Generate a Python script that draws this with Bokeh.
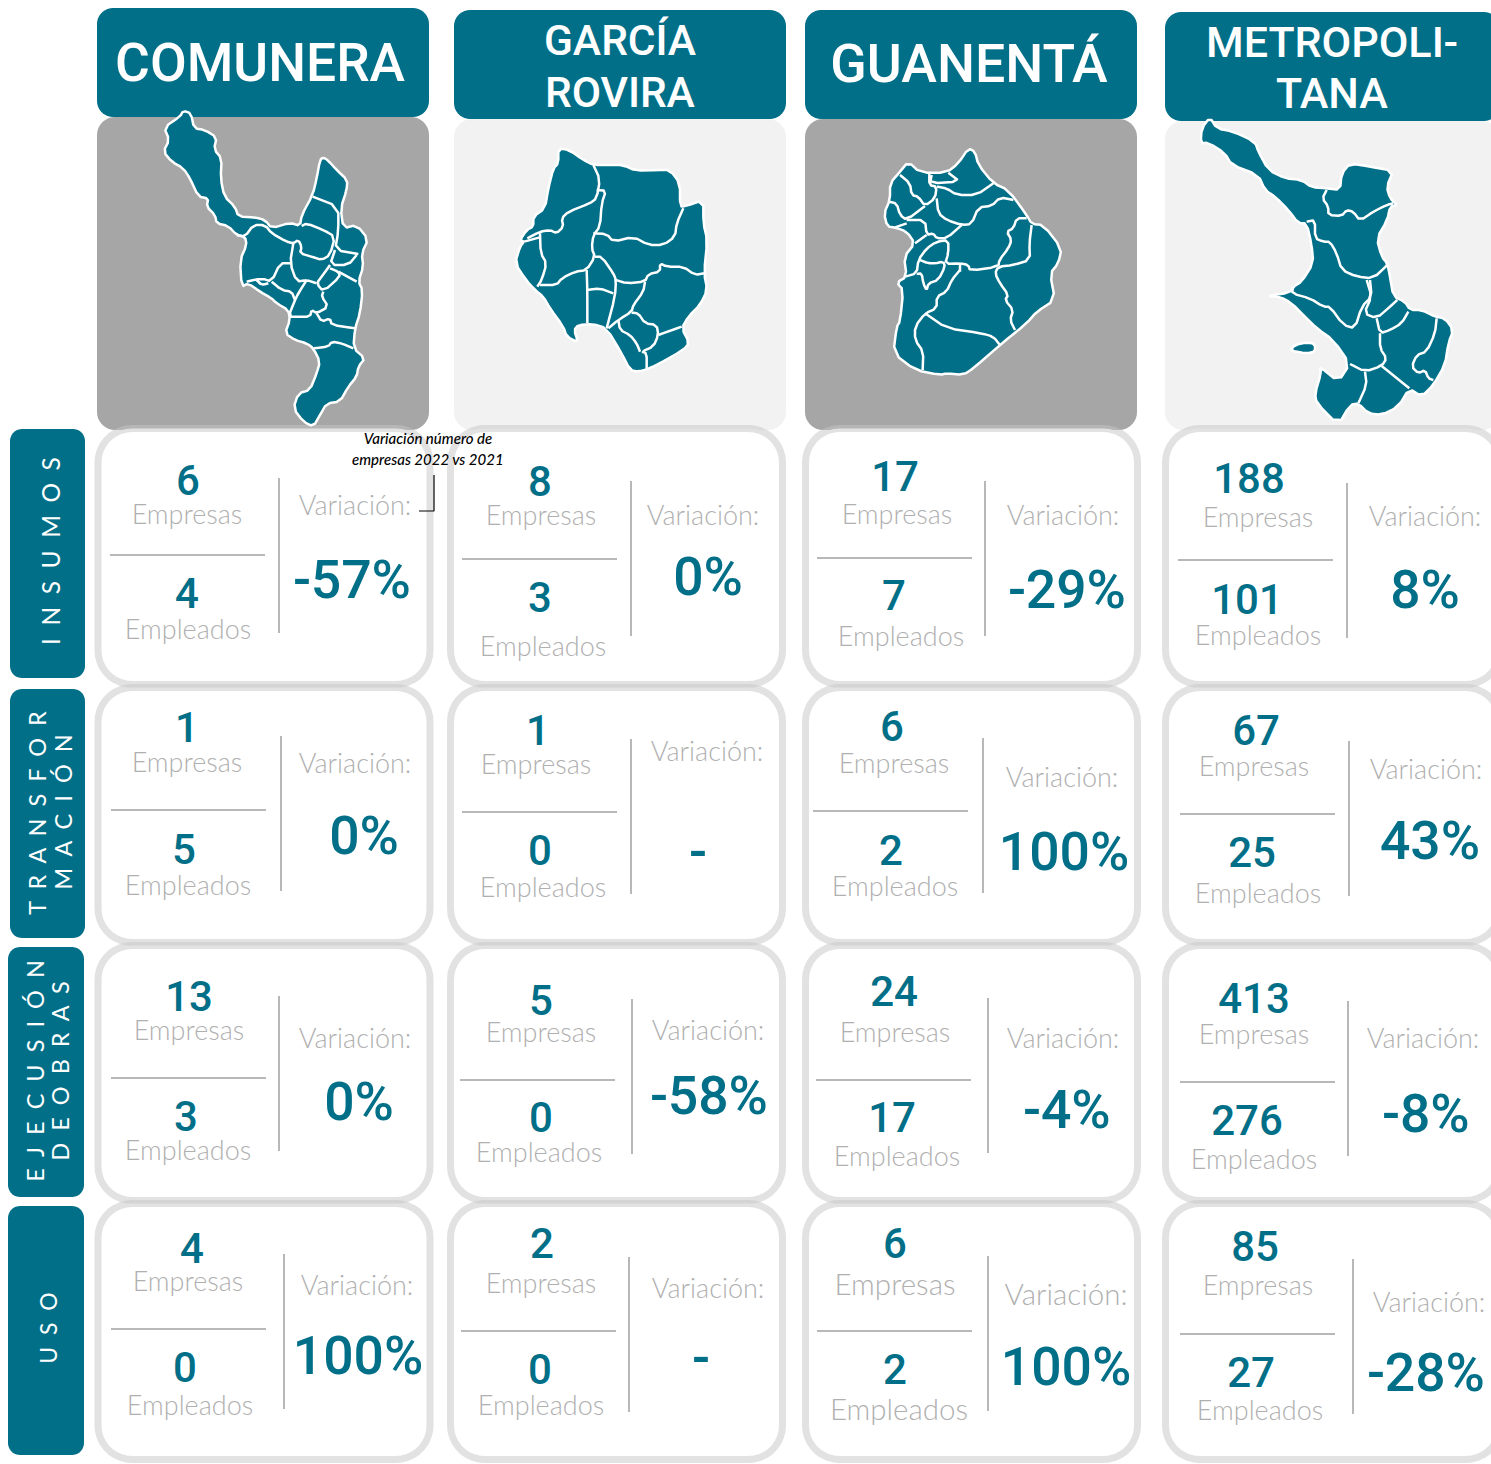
import numpy as np
from bokeh.plotting import figure
from bokeh.models import Range1d
from bokeh.core.properties import value
from bokeh.embed import file_html
from bokeh.resources import INLINE

# ---------- data ----------
REGIONS = [["COMUNERA"], ["GARCÍA", "ROVIRA"], ["GUANENTÁ"], ["METROPOLI-", "TANA"]]
SECTORS = [["INSUMOS"], ["TRANSFOR", "MACIÓN"], ["EJECUSIÓN", "DE OBRAS"], ["USO"]]
EMPRESAS = [[6, 8, 17, 188], [1, 1, 6, 67], [13, 5, 24, 413], [4, 2, 6, 85]]
EMPLEADOS = [[4, 3, 7, 101], [5, 0, 2, 25], [3, 0, 17, 276], [0, 0, 2, 27]]
VARIACION = [["-57%", "0%", "-29%", "8%"], ["0%", "-", "100%", "43%"],
             ["0%", "-58%", "-4%", "-8%"], ["100%", "-", "100%", "-28%"]]
NOTE = ["Variación número de", "empresas 2022 vs 2021"]

# ---------- layout (pixel positions on the page) ----------
TEAL = "#016f88"
GREY = "#a6a6a6"
PALE = "#f2f2f2"
LABEL = "#b0b0b0"
RULE = "#a0a0a0"
CARD = "#c6c6c6"
HEAD_BOX = [(97, 429, 8, 117), (454, 786, 10, 119), (805, 1137, 10, 119), (1165, 1500, 12, 121)]
MAP_BOX = [(97, 429, 117, 430, GREY), (454, 786, 119, 430, PALE), (805, 1137, 119, 430, GREY), (1165, 1500, 121, 430, PALE)]
CARD_X = [(98, 430), (450.5, 782.5), (805.5, 1137.5), (1165.5, 1500)]
CARD_Y = [(428.5, 684.5), (687.5, 942.5), (945.5, 1200.5), (1203.5, 1459.5)]
SIDE_BOX = [(10, 85, 429, 678), (10, 85, 689, 938), (8, 84, 947, 1197), (8, 84, 1206, 1455)]
HEAD_POS = [[(260, 64, 53.3)], [(620, 41, 42.5), (620, 93, 42.5)], [(969, 64, 53.6)], [(1332, 43, 43), (1332, 94, 43)]]
SIDE_POS = [[(50, 552, 2, 24.5)], [(37, 814, 2, 23.5), (63, 813, 2, 23.5)], [(35, 1072, 2, 23.5), (60, 1072, 2, 23.5)], [(48, 1329, 2, 23)]]
N1 = [[(188,481),(540,482),(895,477),(1249,479)],[(187,728),(538,731),(892,727),(1256,731)],
      [(189,997),(541,1001),(894,992),(1254,999)],[(192,1249),(542,1244),(895,1244),(1255,1247)]]
L1 = [[(187,514),(541,515),(897,514),(1258,517)],[(187,762),(536,764),(894,763),(1254,766)],
      [(189,1030),(541,1032),(895,1032),(1254,1034)],[(188,1281),(541,1283),(895,1284),(1258,1285)]]
N2 = [[(187,594),(540,598),(894,596),(1247,600)],[(184,850),(540,851),(891,851),(1252,853)],
      [(186,1117),(541,1118),(892,1118),(1247,1121)],[(185,1368),(540,1370),(895,1370),(1251,1373)]]
L2 = [[(188,629),(543,646),(901,636),(1258,635)],[(188,885),(543,887),(895,886),(1258,893)],
      [(188,1150),(539,1152),(897,1156),(1254,1159)],[(190,1405),(541,1405),(899,1409),(1260,1410)]]
HL = [[(110,555),(462,559),(817,558),(1178,560)],[(111,810),(462,812),(813,811),(1180,814)],
      [(111,1078),(460,1080),(816,1080),(1180,1082)],[(111,1329),(461,1331),(817,1331),(1180,1334)]]
VL = [[(279,478),(631,481),(985,481),(1347,483)],[(281,736),(631,739),(983,738),(1349,741)],
      [(279,996),(632,999),(988,998),(1348,1001)],[(284,1254),(629,1257),(988,1256),(1353,1259)]]
VT = [[(355,505),(703,515),(1063,515),(1425,516)],[(355,763),(707,751),(1062,777),(1426,769)],
      [(355,1038),(708,1030),(1063,1038),(1423,1038)],[(357,1285),(708,1288),(1066,1294),(1429,1302)]]
VP = [[(352,580),(708,577),(1067,590),(1425,590)],[(364,836),(698,852),(1064,852),(1430,841)],
      [(359,1102),(709,1096),(1067,1110),(1426,1114)],[(358,1356),(701,1358),(1066,1367),(1426,1373)]]

# ---------- map outlines (3x crop coordinates + crop origin) ----------
M1_O = (90, 100)
M1_OUT = [(280,32),(303,40),(312,85),(345,90),(380,112),(372,148),(395,175),(392,235),(403,290),(435,320),(445,350),(495,352),(525,360),(545,385),(600,368),(630,378),(635,345),(668,285),(680,235),(690,180),(700,172),(715,182),(740,210),(772,240),(770,270),(752,325),(760,385),(800,375),(835,418),(815,460),(820,500),(805,545),(818,570),(810,640),(795,685),(790,745),(825,775),(805,800),(800,830),(775,860),(750,905),(710,910),(690,945),(670,980),(640,965),(610,925),(625,880),(660,870),(680,820),(690,785),(670,745),(650,730),(615,720),(585,700),(600,660),(595,630),(560,610),(545,595),(510,575),(475,550),(455,560),(450,480),(470,435),(465,410),(440,405),(415,378),(380,370),(375,345),(350,320),(355,295),(325,290),(300,235),(280,205),(245,185),(220,155),(238,120),(222,82),(270,50)]
M1_IN = [
 [(440,405),(465,410),(490,375),(525,375),(545,400),(590,425),(610,430),(625,420),(635,440),(630,460),(665,470),(695,480),(720,465),(735,410),(700,390),(650,370),(635,378)],
 [(668,290),(745,320),(745,395),(735,450),(805,462)],
 [(735,450),(720,495),(775,495),(800,465)],
 [(720,495),(695,530),(680,550),(700,575),(750,530),(745,515),(720,505)],
 [(745,515),(800,545)],
 [(610,430),(600,490),(620,545),(650,540),(680,550)],
 [(600,490),(570,490),(545,545),(515,535),(470,545)],
 [(545,545),(575,570),(605,575),(615,600)],
 [(500,540),(515,555),(535,550)],
 [(650,540),(625,580),(615,600),(595,650),(625,650),(660,650),(665,630),(680,640),(715,620),(695,590),(700,575)],
 [(680,640),(695,665),(720,655),(725,675),(795,685)],
 [(670,745),(715,740),(725,725),(755,730),(790,745)],
]
M2_O = (450, 120)
M2_OUT = [(325,85),(358,90),(400,120),(430,135),(480,135),(520,135),(555,152),(625,150),(660,150),(690,190),(690,260),(708,258),(760,240),(760,310),(772,360),(762,460),(772,510),(750,555),(715,590),(695,625),(718,668),(700,690),(620,735),(590,748),(565,755),(540,750),(515,700),(470,625),(430,612),(385,615),(372,630),(385,668),(350,650),(340,620),(300,565),(280,530),(255,510),(228,480),(195,430),(210,380),(222,365),(210,360),(230,330),(250,320),(250,290),(285,265),(295,205),(310,145),(325,130)]
M2_IN = [
 [(430,135),(450,178),(440,235),(420,250),(355,275),(335,295),(340,320),(320,340),(300,330),(270,335),(232,355)],
 [(440,210),(468,212),(455,250),(450,320),(430,345),(425,385),(435,410),(410,450),(375,455),(335,475),(320,495),(270,495)],
 [(430,340),(470,342),(490,365),(550,350),(595,375),(640,375),(675,350),(680,310),(700,265)],
 [(270,340),(272,400),(290,430),(275,480),(262,500)],
 [(222,365),(270,352)],
 [(435,410),(455,410),(490,460),(498,480),(495,530),(470,625)],
 [(410,450),(412,510),(412,610)],
 [(412,510),(450,505),(490,520)],
 [(498,480),(530,490),(585,485),(595,462),(630,455),(630,430),(650,440),(700,440),(735,465),(762,460)],
 [(585,485),(580,515),(550,555),(545,575),(505,600),(475,625)],
 [(545,578),(565,580),(585,610),(620,615),(625,645),(610,680),(575,695),(590,700),(590,745)],
 [(625,645),(695,620)],
 [(505,600),(510,630),(540,645),(560,670),(570,695)],
]
M3_O = (800, 120)
M3_OUT = [(325,125),(360,158),(440,158),(475,130),(505,85),(525,95),(535,135),(580,190),(625,210),(680,285),(695,312),(730,315),(785,385),(775,430),(750,460),(765,540),(710,575),(680,610),(600,675),(520,745),(490,765),(440,760),(420,765),(345,750),(280,700),(290,620),(300,605),(310,510),(290,488),(320,470),(312,410),(345,370),(320,335),(285,322),(262,320),(252,280),(270,240),(270,190),(300,155)]
M3_IN = [
 [(388,162),(388,195),(410,200),(405,235),(375,258),(355,230),(335,225),(330,190),(300,165)],
 [(395,165),(390,190),(480,185),(445,158)],
 [(410,200),(440,205),(470,225),(530,225),(580,190)],
 [(410,235),(415,280),(440,300),(485,315),(515,312),(535,262),(575,258),(600,232),(640,240)],
 [(375,258),(320,300),(300,285),(290,250),(265,245)],
 [(320,300),(375,300),(380,345),(400,340),(410,355),(440,355),(485,315)],
 [(285,322),(320,310)],
 [(380,345),(345,370)],
 [(680,295),(650,295),(640,325),(620,335),(635,360),(625,385),(598,420),(595,440),(510,452),(505,435),(480,430),(435,432),(445,400),(445,360),(410,365),(380,385),(355,420),(350,460),(315,470)],
 [(360,420),(385,430),(405,430),(430,425),(435,440),(415,480),(385,490),(380,512),(370,490),(365,460),(350,462)],
 [(695,315),(688,370),(690,420),(640,435),(595,440),(585,460),(600,490),(625,525),(615,540),(640,570),(630,600),(645,630)],
 [(480,450),(455,480),(440,515),(410,530),(410,565),(375,580),(345,620),(345,660),(370,695),(368,750)],
 [(375,580),(440,625),(545,640),(580,650),(600,675)],
 [(480,435),(480,455)],
]
M4_O = (1160, 110)
M4_OUT = [(150,22),(170,55),(220,65),(285,95),(295,125),(325,180),(375,205),(425,210),(455,232),(500,235),(540,240),(545,190),(570,160),(630,170),(700,182),(680,230),(690,265),(712,285),(690,290),(682,330),(650,385),(665,440),(682,460),(690,500),(700,560),(735,575),(750,600),(785,600),(825,620),(855,625),(880,660),(865,700),(855,765),(820,825),(785,860),(748,835),(715,890),(665,915),(625,910),(595,880),(570,885),(535,945),(470,880),(465,850),(483,790),(480,770),(535,815),(570,762),(520,690),(470,655),(430,615),(395,580),(360,560),(320,558),(390,548),(400,530),(425,515),(460,460),(455,405),(440,340),(415,340),(385,300),(345,260),(315,240),(295,195),(215,165),(195,130),(145,98),(122,100),(125,55)]
M4_ISLAND = [(390,722),(405,705),(440,697),(465,702),(465,725),(440,730)]
M4_IN = [
 [(500,240),(487,265),(505,290),(505,315),(545,318),(560,300),(580,305),(600,332),(640,305),(680,285),(700,280)],
 [(440,335),(465,330),(465,385),(490,395),(510,395),(530,430),(545,480),(590,500),(640,505),(682,465)],
 [(400,530),(395,550),(450,565),(490,590),(510,590),(550,645),(585,655),(605,590),(635,560),(630,510)],
 [(620,510),(635,560),(612,610),(650,625),(690,590),(712,570)],
 [(650,625),(660,670),(690,660),(725,640),(745,605)],
 [(660,670),(660,715),(680,745),(665,768),(615,785),(570,762)],
 [(615,785),(620,825),(595,880)],
 [(665,768),(748,835)],
 [(830,625),(825,670),(800,725),(770,735),(755,770),(775,790),(795,780),(805,805),(820,810)],
]

# ---------- drawing ----------
p = figure(width=1491, height=1464, x_range=Range1d(0.5, 1491.5), y_range=Range1d(1464.5, 0.5),
           output_backend="svg", toolbar_location=None, min_border=0,
           background_fill_color="white", border_fill_color="white")
p.axis.visible = False
p.grid.visible = False
p.outline_line_color = None

def rounded(x0, x1, y0, y1, r):
    xs, ys = [], []
    for cx, cy, a0 in ((x1 - r, y0 + r, -90), (x1 - r, y1 - r, 0), (x0 + r, y1 - r, 90), (x0 + r, y0 + r, 180)):
        t = np.radians(np.linspace(a0, a0 + 90, 10))
        xs += list(cx + r * np.cos(t))
        ys += list(cy + r * np.sin(t))
    return xs, ys

def box(b, r, color, line=None, lw=0, alpha=1.0):
    xs, ys = rounded(b[0], b[1], b[2], b[3], r)
    p.patch(xs, ys, fill_color=color, line_color=line, line_width=lw, line_alpha=alpha)

def label(x, y, text, size, color, font="Roboto", style="normal", angle=0):
    p.text([x], [y - 1], text=[text], text_font=value(font), text_font_size=f"{size}px",
           text_font_style=style, text_color=color, text_align="center",
           text_baseline="middle", angle=angle)

def soften(pts, closed):
    # round the corners of a traced outline
    out = [] if closed else [pts[0]]
    n = len(pts)
    for i in range(n if closed else n - 1):
        a, b = pts[i], pts[(i + 1) % n]
        out.append((0.75 * a[0] + 0.25 * b[0], 0.75 * a[1] + 0.25 * b[1]))
        out.append((0.25 * a[0] + 0.75 * b[0], 0.25 * a[1] + 0.75 * b[1]))
    if not closed:
        out.append(pts[-1])
    return out

def draw_map(origin, outer, inner, extra=()):
    conv = lambda pts: ([origin[0] + a / 3 for a, _ in pts], [origin[1] + b / 3 for _, b in pts])
    for poly in [outer, *extra]:
        xs, ys = conv(soften(poly, True))
        p.patch(xs, ys, fill_color=TEAL, line_color="white", line_width=2.5, line_join="round")
    for line in inner:
        xs, ys = conv(soften(line, False))
        p.line(xs, ys, line_color="white", line_width=2.5, line_join="round")

for b in MAP_BOX:
    box(b[:4], 18, b[4])
for b in HEAD_BOX:
    box(b, 16, TEAL)
for r, yb in enumerate(CARD_Y):
    for c, xb in enumerate(CARD_X):
        box((xb[0], xb[1], yb[0], yb[1]), 34, "white", CARD, 7, 0.5)
for b in SIDE_BOX:
    box(b, 12, TEAL)

draw_map(M1_O, M1_OUT, M1_IN)
draw_map(M2_O, M2_OUT, M2_IN)
draw_map(M3_O, M3_OUT, M3_IN)
draw_map(M4_O, M4_OUT, M4_IN, [M4_ISLAND])

for lines, pos in zip(REGIONS, HEAD_POS):
    for t, (x, y, s) in zip(lines, pos):
        label(x, y, t, s, "white", font="Roboto Medium")

for lines, pos in zip(SECTORS, SIDE_POS):
    for t, (x, y, gap, size) in zip(lines, pos):
        spaced = ("\u00a0" * gap).join(t.replace(" ", ""))
        label(x, y, spaced, size, "white", font="Lato", angle=np.pi / 2)

NUM = 42
PCT = 53.5
for r in range(4):
    for c in range(4):
        big = (r == 3 and c == 2)
        ls = 29.5 if big else 27
        label(*N1[r][c], str(EMPRESAS[r][c]), NUM, TEAL, font="Roboto Medium")
        label(*L1[r][c], "Empresas", ls, LABEL, font="Lato Light")
        label(*N2[r][c], str(EMPLEADOS[r][c]), NUM, TEAL, font="Roboto Medium")
        label(*L2[r][c], "Empleados", ls, LABEL, font="Lato Light")
        label(*VT[r][c], "Variación:", ls, LABEL, font="Lato Light")
        label(*VP[r][c], VARIACION[r][c], PCT, TEAL, font="Roboto Medium")
        hx, hy = HL[r][c]
        p.line([hx, hx + 155], [hy, hy], line_color=RULE, line_width=1.5)
        vx, vy = VL[r][c]
        p.line([vx, vx], [vy, vy + 155], line_color=RULE, line_width=1.5)

label(428, 439, NOTE[0], 15, "black", font="Lato Medium, Lato", style="italic")
label(428, 460, NOTE[1], 15, "black", font="Lato Medium, Lato", style="italic")
p.line([434, 434, 419], [475, 511, 511], line_color="black", line_width=1.2)

open("out.html", "w").write(file_html(p, INLINE))
